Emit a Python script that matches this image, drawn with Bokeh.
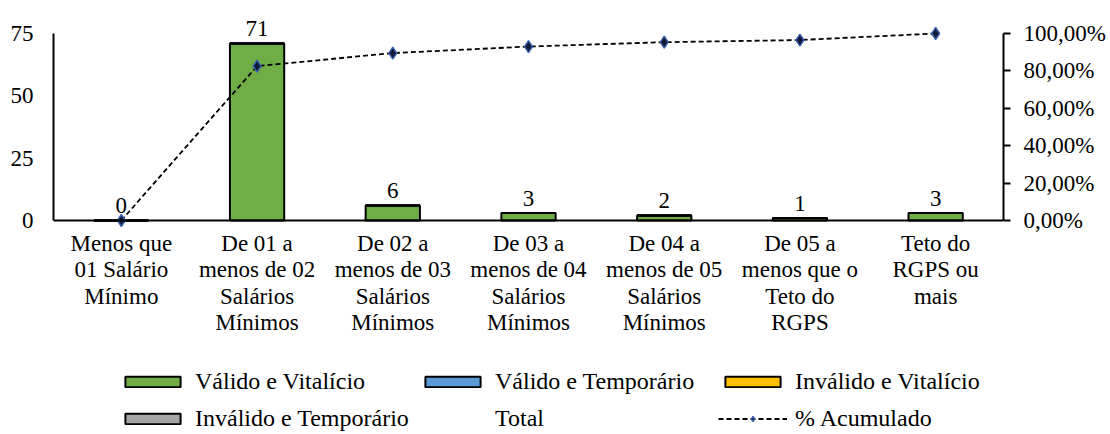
from bokeh.plotting import figure
from bokeh.models import (Range1d, LinearAxis, FixedTicker, Legend, LegendItem,
                          ColumnDataSource)
from bokeh.core.properties import value
from bokeh.embed import file_html
from bokeh.resources import INLINE

# ---------------- data ----------------
categories = [
    "Menos que\n01 Salário\nMínimo",
    "De 01 a\nmenos de 02\nSalários\nMínimos",
    "De 02 a\nmenos de 03\nSalários\nMínimos",
    "De 03 a\nmenos de 04\nSalários\nMínimos",
    "De 04 a\nmenos de 05\nSalários\nMínimos",
    "De 05 a\nmenos que o\nTeto do\nRGPS",
    "Teto do\nRGPS ou\nmais",
]
valido_vitalicio = [0, 71, 6, 3, 2, 1, 3]
valido_temporario = [0, 0, 0, 0, 0, 0, 0]
invalido_vitalicio = [0, 0, 0, 0, 0, 0, 0]
invalido_temporario = [0, 0, 0, 0, 0, 0, 0]
total = [0, 71, 6, 3, 2, 1, 3]
pct_acumulado = [0.0, 82.56, 89.53, 93.02, 95.35, 96.51, 100.0]

left_ticks = [0, 25, 50, 75]
right_ticks = [0, 20, 40, 60, 80, 100]
right_tick_labels = ["0,00%", "20,00%", "40,00%", "60,00%", "80,00%", "100,00%"]

series_names = ["Válido e Vitalício", "Válido e Temporário",
                "Inválido e Vitalício", "Inválido e Temporário"]
series_colors = ["#70AD47", "#5B9BD5", "#FFC000", "#A5A5A5"]

# ---------------- layout / styling ----------------
FONT = "Liberation Serif"
FS = "23px"
FS_LEG = "24px"
FRAME_W, FRAME_H = 950, 434
TOP_PX, AXIS_PX = 33, 187          # px from canvas top to value-axis top, axis height
left_max, right_max = 75, 100
lpx = AXIS_PX / left_max
rpx = AXIS_PX / right_max
left_range = (-(FRAME_H - TOP_PX - AXIS_PX) / lpx, left_max + TOP_PX / lpx)
right_range = (-(FRAME_H - TOP_PX - AXIS_PX) / rpx, right_max + TOP_PX / rpx)

x = list(range(len(categories)))
src = ColumnDataSource(dict(
    x=x,
    vv=valido_vitalicio, vt=valido_temporario,
    iv=invalido_vitalicio, it=invalido_temporario,
    total=total, total_lbl=[str(t) for t in total],
    pct=pct_acumulado,
))

p = figure(frame_width=FRAME_W, frame_height=FRAME_H,
           output_backend="svg", toolbar_location=None,
           x_range=Range1d(-0.5, len(categories) - 0.5),
           y_range=Range1d(*left_range),
           min_border_left=53, min_border_top=0, min_border_bottom=0,
           min_border_right=0)
p.outline_line_color = None
p.xgrid.grid_line_color = None
p.ygrid.grid_line_color = None
p.background_fill_color = "white"
p.border_fill_color = "white"

p.extra_y_ranges = {"pct": Range1d(*right_range)}

# bars
stack = p.vbar_stack(["vv", "vt", "iv", "it"], x="x", width=0.4, source=src,
                     fill_color=series_colors, line_color="black", line_width=2)
tot = p.vbar(x="x", top="total", width=0.4, source=src,
             fill_color=None, line_color=None)

# data labels
p.text(x="x", y="total", text="total_lbl", source=src,
       text_font=value(FONT), text_font_size=FS, text_color="black",
       text_align="center", text_baseline="alphabetic", y_offset=-15)

# cumulative line
ln = p.line(x="x", y="pct", source=src, y_range_name="pct",
            line_color="black", line_width=1.8, line_dash="5 3")
mk = p.scatter(x="x", y="pct", source=src, y_range_name="pct", marker="diamond",
               size=12, fill_color="#101A38", line_color="#3A62B0", line_width=1.4)

# axes
xa = p.xaxis[0]
xa.fixed_location = 0
xa.ticker = FixedTicker(ticks=x)
xa.major_label_overrides = {i: c for i, c in enumerate(categories)}
xa.major_tick_line_color = None
xa.major_tick_out = 0
xa.major_tick_in = 0
xa.minor_tick_line_color = None
xa.axis_line_color = "black"
xa.axis_line_width = 2
xa.major_label_text_font = FONT
xa.major_label_text_font_size = FS
xa.major_label_text_color = "black"
xa.major_label_standoff = 10
xa.major_label_text_line_height = 1.06

ya = p.yaxis[0]
ya.ticker = FixedTicker(ticks=left_ticks)
ya.bounds = (0, left_max)
ya.major_tick_line_color = None
ya.major_tick_out = 0
ya.major_tick_in = 0
ya.minor_tick_line_color = None
ya.axis_line_color = "black"
ya.axis_line_width = 2
ya.major_label_text_font = FONT
ya.major_label_text_font_size = FS
ya.major_label_text_color = "black"
ya.major_label_standoff = 20

ra = LinearAxis(y_range_name="pct", ticker=FixedTicker(ticks=right_ticks),
                bounds=(0, right_max))
ra.major_label_overrides = {t: l for t, l in zip(right_ticks, right_tick_labels)}
ra.major_tick_in = 0
ra.major_tick_out = 7
ra.major_tick_line_width = 2
ra.major_tick_line_color = "black"
ra.minor_tick_line_color = None
ra.axis_line_color = "black"
ra.axis_line_width = 2
ra.major_label_text_font = FONT
ra.major_label_text_font_size = FS
ra.major_label_text_color = "black"
ra.major_label_standoff = 13
p.add_layout(ra, "right")

# legends: one per item, on a fixed grid (positions relative to frame bottom-left)
items = [
    (series_names[0], [stack[0]], 65, 39),
    (series_names[1], [stack[1]], 365, 39),
    (series_names[2], [stack[2]], 665, 39),
    (series_names[3], [stack[3]], 65, 2),
    ("Total", [tot], 365, 2),
    ("% Acumulado", [ln, mk], 665, 2),
]
for label, rends, lx, ly in items:
    lg = Legend(items=[LegendItem(label=label, renderers=rends)],
                location=(lx, ly), orientation="horizontal",
                padding=0, margin=0, spacing=0,
                glyph_width=69, glyph_height=13, label_standoff=8,
                label_text_font=FONT, label_text_font_size=FS_LEG,
                label_text_color="black", label_height=24,
                border_line_color=None, background_fill_alpha=0)
    p.add_layout(lg, "center")

open("out.html", "w").write(file_html(p, INLINE))
